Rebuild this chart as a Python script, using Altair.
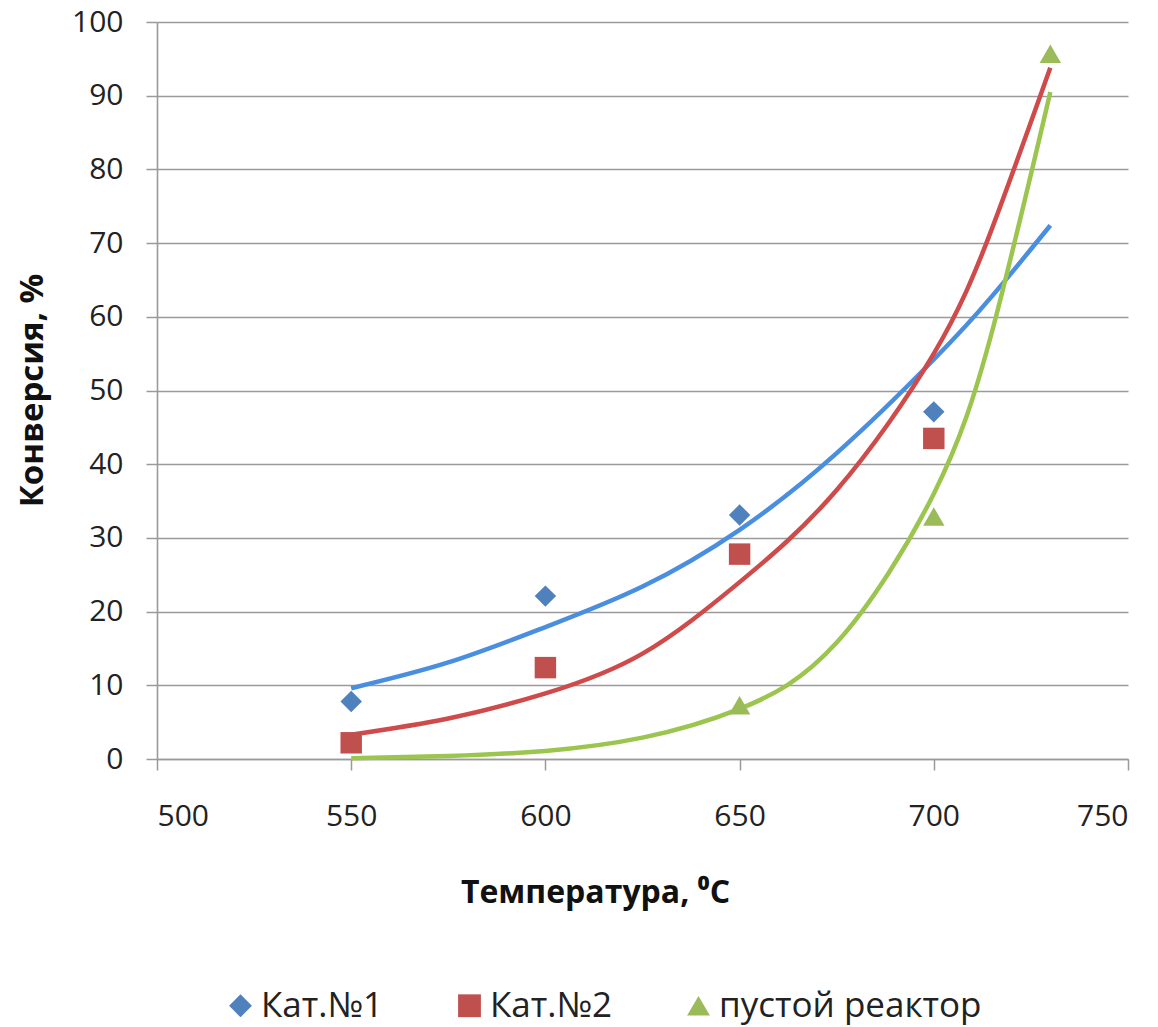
import altair as alt
import pandas as pd

# Measured points
series_names = ["Кат.№1", "Кат.№2", "пустой реактор"]
kat1_t = [550, 600, 650, 700]
kat1_v = [7.8, 22.1, 33.1, 47.1]
kat2_t = [550, 600, 650, 700]
kat2_v = [2.2, 12.4, 27.8, 43.5]
empty_t = [650, 700, 730]
empty_v = [7.3, 32.9, 95.7]

# Trend curves
curve_t = [550, 575, 600, 625, 650, 675, 700, 715, 730]
kat1_curve = [9.6, 13.1, 17.9, 23.4, 31.1, 41.5, 54.2, 62.8, 72.4]
kat2_curve = [3.3, 5.5, 8.9, 14.3, 24.0, 36.5, 55.0, 72.0, 93.8]
empty_curve = [0.1, 0.4, 1.1, 2.9, 6.8, 15.8, 36.0, 58.0, 90.5]

marker_colors = ["#4F81BD", "#C0504D", "#9BBB59"]
line_colors = ["#4A8FDF", "#CF4A4A", "#9CC54F"]
shapes = ["diamond", "square", "triangle-up"]

pts = pd.DataFrame(
    [{"t": t, "v": v, "series": series_names[0]} for t, v in zip(kat1_t, kat1_v)]
    + [{"t": t, "v": v, "series": series_names[1]} for t, v in zip(kat2_t, kat2_v)]
    + [{"t": t, "v": v, "series": series_names[2]} for t, v in zip(empty_t, empty_v)]
)
curves = pd.DataFrame(
    [{"t": t, "v": v, "series": series_names[0], "col": line_colors[0]} for t, v in zip(curve_t, kat1_curve)]
    + [{"t": t, "v": v, "series": series_names[1], "col": line_colors[1]} for t, v in zip(curve_t, kat2_curve)]
    + [{"t": t, "v": v, "series": series_names[2], "col": line_colors[2]} for t, v in zip(curve_t, empty_curve)]
)

FONT = "Open Sans, Liberation Sans, DejaVu Sans"
GRID = "#9a9a9a"

x_enc = alt.X(
    "t:Q",
    scale=alt.Scale(domain=[500, 750], nice=False, zero=False),
    axis=alt.Axis(
        values=[500, 550, 600, 650, 700, 750],
        title="Температура, ⁰С",
        titleFont=FONT,
        titleFontSize=32,
        titleFontWeight="bold",
        titleColor="#111111",
        titleX=438,
        titleY=143,
        titleBaseline="alphabetic",
        labelFont=FONT,
        labelFontSize=30,
        labelColor="#222222",
        labelPadding=31,
        labelBaseline="top",
        tickSize=11,
        tickColor=GRID,
        tickWidth=1.5,
        domainColor=GRID,
        domainWidth=1.6,
        grid=False,
    ),
)
y_enc = alt.Y(
    "v:Q",
    scale=alt.Scale(domain=[0, 100], nice=False),
    axis=alt.Axis(
        values=[0, 10, 20, 30, 40, 50, 60, 70, 80, 90, 100],
        title="Конверсия, %",
        titleFont=FONT,
        titleFontSize=33,
        titleFontWeight="bold",
        titleColor="#111111",
        titleAngle=270,
        titleX=-115,
        titleY=368,
        titleBaseline="alphabetic",
        labelFont=FONT,
        labelFontSize=30,
        labelColor="#222222",
        labelPadding=23,
        tickSize=11,
        tickColor=GRID,
        tickWidth=1.5,
        domainColor=GRID,
        domainWidth=1.6,
        grid=True,
        gridColor=GRID,
        gridWidth=1.6,
    ),
)

lines = alt.Chart(curves).mark_line(strokeWidth=4.5, interpolate="natural").encode(
    x=x_enc,
    y=y_enc,
    detail="series:N",
    color=alt.Color("col:N", scale=None),
)

points = alt.Chart(pts).mark_point(filled=True, opacity=1, size=460).encode(
    x=alt.X("t:Q"),
    y=alt.Y("v:Q"),
    color=alt.Color(
        "series:N",
        scale=alt.Scale(domain=series_names, range=marker_colors),
        title=None,
        legend=alt.Legend(
            orient="none",
            direction="horizontal",
            legendX=66,
            legendY=966,
            labelFont=FONT,
            labelFontSize=35,
            labelColor="#222222",
            labelLimit=1000,
            symbolSize=520,
            symbolStrokeWidth=0,
            labelOffset=3,
            columnPadding=68,
            padding=0,
        ),
    ),
    shape=alt.Shape(
        "series:N",
        scale=alt.Scale(domain=series_names, range=shapes),
        title=None,
    ),
)

chart = (
    alt.layer(lines, points)
    .properties(
        width=971,
        height=737,
        autosize=alt.AutoSizeParams(type="none"),
        padding={"left": 157, "top": 22, "right": 30, "bottom": 268},
        background="white",
    )
    .configure_view(stroke=None)
)

chart.save("out.html", embed_options={"renderer": "svg", "actions": False})
